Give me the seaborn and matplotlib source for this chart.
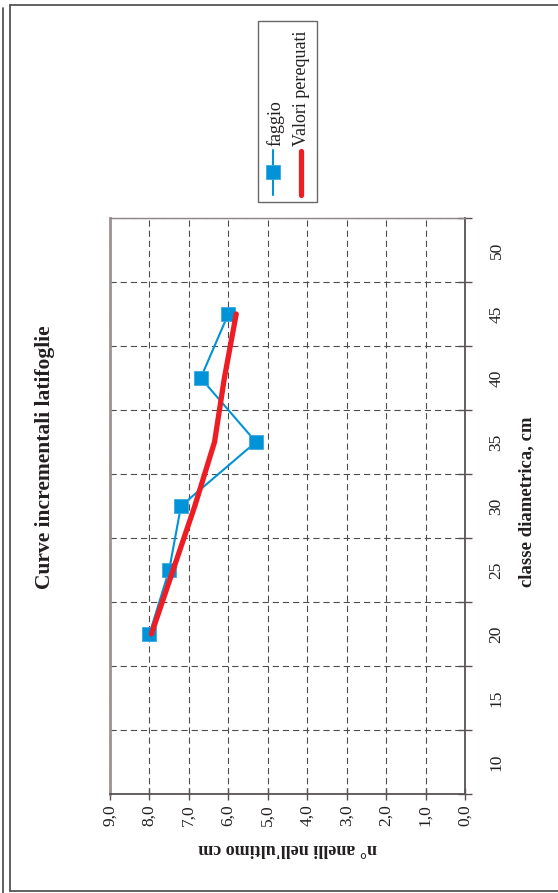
import numpy as np
import pandas as pd
import matplotlib
matplotlib.use("Agg")
import matplotlib.pyplot as plt
from matplotlib.lines import Line2D
from matplotlib.patches import Rectangle
from matplotlib.ticker import FixedLocator, NullFormatter
import seaborn as sns

# ---- data -------------------------------------------------------------
classe = [20, 25, 30, 35, 40, 45]                 # classe diametrica, cm
faggio = [8.0, 7.5, 7.2, 5.3, 6.7, 6.0]           # n° anelli nell'ultimo cm
perequati = [7.95, 7.4, 6.85, 6.35, 6.1, 5.8]     # valori perequati
category_labels = [10, 15, 20, 25, 30, 35, 40, 45, 50]
value_ticks = [0, 1, 2, 3, 4, 5, 6, 7, 8, 9]

# ---- style ------------------------------------------------------------
sns.set_style("white")
plt.rcParams["font.family"] = ["Liberation Serif", "DejaVu Serif"]
plt.rcParams["lines.scale_dashes"] = False

TXT = "#231f20"
AX = "#5a5252"
BLUE = "#0093d8"
RED = "#ee1d24"

W, H = 558, 893
fig = plt.figure(figsize=(W / 100, H / 100), dpi=100)


def fx(px):
    return px / W


def fy(py):
    return 1 - py / H


# page frame
for xs, ys in [((10, 10), (5, 891)), ((10, 558), (5, 5)), ((10, 558), (891, 891)),
               ((3, 3), (8, 893))]:
    fig.add_artist(Line2D([fx(x) for x in xs], [fy(y) for y in ys],
                          color="#555555", lw=1.3, transform=fig.transFigure))

# plot area (chart drawn turned a quarter turn)
L, R, T, B = 110, 465, 218, 794
ax = fig.add_axes([fx(L), fy(B), (R - L) / W, (B - T) / H])

df = pd.DataFrame({"classe": classe, "faggio": faggio, "perequati": perequati})

sns.lineplot(data=df, x="faggio", y="classe", ax=ax, sort=False, estimator=None,
             orient="y", color=BLUE, lw=1.5, marker="s", markersize=9.5,
             markeredgecolor="#3aa8e0", markeredgewidth=0.6, zorder=4)
sns.lineplot(data=df, x="perequati", y="classe", ax=ax, sort=False, estimator=None,
             orient="y", color=RED, lw=3.8, solid_capstyle="round", zorder=5)

ax.set_xlim(9, 0)
ax.set_ylim(7.5, 52.5)

# value axis (bottom)
ax.set_xticks(value_ticks)
ax.set_xticklabels([f"{v:.1f}".replace(".", ",") for v in value_ticks],
                   rotation=90, fontsize=12.5, color=TXT)
ax.tick_params(axis="x", which="major", direction="inout", length=9, width=1,
               color=AX, pad=3, bottom=True)

# category axis (right side): boundaries carry ticks and grid, centres carry labels
bounds = [c - 2.5 for c in category_labels] + [category_labels[-1] + 2.5]
ax.yaxis.tick_right()
ax.yaxis.set_major_locator(FixedLocator(bounds))
ax.yaxis.set_major_formatter(NullFormatter())
ax.yaxis.set_minor_locator(FixedLocator(category_labels))
ax.set_yticklabels([str(c) for c in category_labels], minor=True,
                   rotation=90, fontsize=12.5, color=TXT, va="center")
ax.tick_params(axis="y", which="major", direction="inout", length=10, width=1,
               color=AX, right=True, left=False)
ax.tick_params(axis="y", which="minor", length=0, pad=17, right=True, left=False)

ax.grid(True, which="major", axis="both", color="#4d4d4d", lw=0.8,
        linestyle=(0, (4.5, 2.8)))
ax.set_axisbelow(True)

for side, col, lw in [("left", "#9c9292", 2.0), ("top", "#8a8484", 1.0),
                      ("right", AX, 1.3), ("bottom", AX, 1.3)]:
    ax.spines[side].set_visible(True)
    ax.spines[side].set_color(col)
    ax.spines[side].set_linewidth(lw)

ax.set_xlabel("n° anelli nell'ultimo cm", fontsize=13, fontweight="bold",
              color=TXT, rotation=180, va="center", ha="center")
ax.xaxis.set_label_coords(0.5, (B - 848) / (B - T))
ax.yaxis.set_label_position("right")
ax.set_ylabel("classe diametrica, cm", fontsize=13.5, fontweight="bold",
              color=TXT, rotation=90, va="center", ha="center")
ax.yaxis.set_label_coords((527 - L) / (R - L), (B - 502) / (B - T))

# title
fig.text(fx(45), fy(457), "Curve incrementali latifoglie", rotation=90,
         fontsize=15.5, fontweight="bold", color=TXT, ha="center", va="center")

# legend box
fig.add_artist(Rectangle((fx(258), fy(202)), (317 - 258) / W, (202 - 21) / H,
                         transform=fig.transFigure, fill=False,
                         edgecolor="#6a6666", lw=1.0))
fig.add_artist(Line2D([fx(273), fx(273)], [fy(195), fy(150)], color=BLUE, lw=1.5,
                      transform=fig.transFigure))
fig.add_artist(Line2D([fx(273)], [fy(172)], color=BLUE, marker="s", markersize=9.5,
                      markeredgecolor="#3aa8e0", markeredgewidth=0.6,
                      transform=fig.transFigure))
fig.add_artist(Line2D([fx(301), fx(301)], [fy(195), fy(151)], color=RED, lw=3.8,
                      solid_capstyle="round", transform=fig.transFigure))
fig.text(fx(275), fy(146), "faggio", rotation=90, fontsize=13, color=TXT,
         ha="center", va="bottom")
fig.text(fx(302), fy(146), "Valori perequati", rotation=90, fontsize=13,
         color=TXT, ha="center", va="bottom")

fig.savefig("out.png", dpi=100, facecolor="white")
